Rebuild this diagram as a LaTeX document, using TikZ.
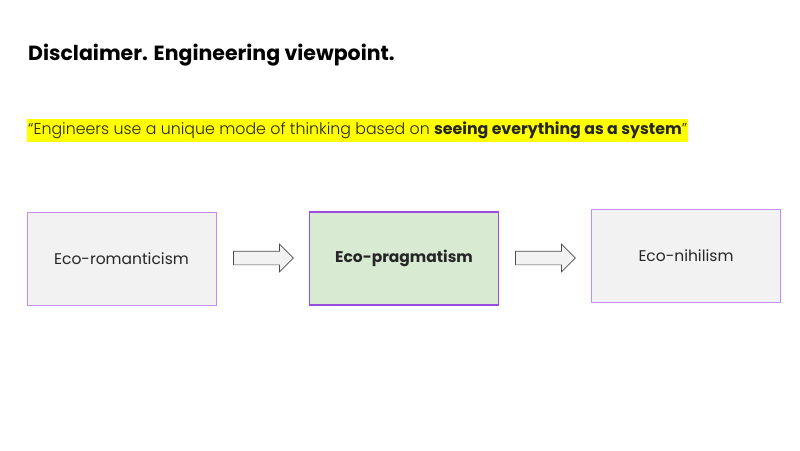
\documentclass[tikz,border=0pt]{standalone}
\usepackage{fontspec}
\setmainfont{Poppins}
\newfontfamily\quotefont{Poppins Light}
\usetikzlibrary{shapes.arrows}
\definecolor{boxfill}{HTML}{F2F2F2}
\definecolor{greenfill}{HTML}{D9EAD3}
\definecolor{boxline}{HTML}{C48BF0}
\definecolor{boxlinedark}{HTML}{9B4DE0}
\definecolor{hilite}{HTML}{FFFF00}
\tikzset{
  stage/.style={draw=boxline, line width=0.9pt, fill=boxfill, minimum width=189pt, minimum height=93pt, inner sep=0pt, font=\fontsize{15.5}{18}\selectfont, text=black!85},
  keystage/.style={stage, draw=boxlinedark, line width=1.5pt, fill=greenfill, font=\fontsize{15.5}{18}\selectfont\bfseries},
  flowarrow/.style={single arrow, draw=black!70, fill=boxfill, line width=0.7pt, minimum height=60pt, inner xsep=0pt, inner ysep=6.5pt, single arrow head extend=7pt, single arrow tip angle=90}
}
\begin{document}
\begin{tikzpicture}[x=1pt,y=-1pt]
\useasboundingbox (0,0) rectangle (800,450);
\node[anchor=base west, inner sep=0pt, font=\fontsize{20.5}{24}\selectfont\bfseries] (title) at (28,60) {Disclaimer. Engineering viewpoint.};
\node[anchor=west, fill=hilite, inner xsep=1pt, inner ysep=3pt, font=\fontsize{15.8}{18}\selectfont, text=black!85] (quote) at (27,130) {\quotefont “Engineers use a unique mode of thinking based on {\normalfont\bfseries seeing everything as a system}”};
\node[stage] (romantic) at (121.5,258.5) {Eco-romanticism};
\node[keystage] (pragmatic) at (404,258.5) {Eco-pragmatism};
\node[stage] (nihil) at (686,255.5) {Eco-nihilism};
\node[flowarrow] (a1) at (260,258) {};
\node[flowarrow] (a2) at (542,258) {};
\end{tikzpicture}
\end{document}
